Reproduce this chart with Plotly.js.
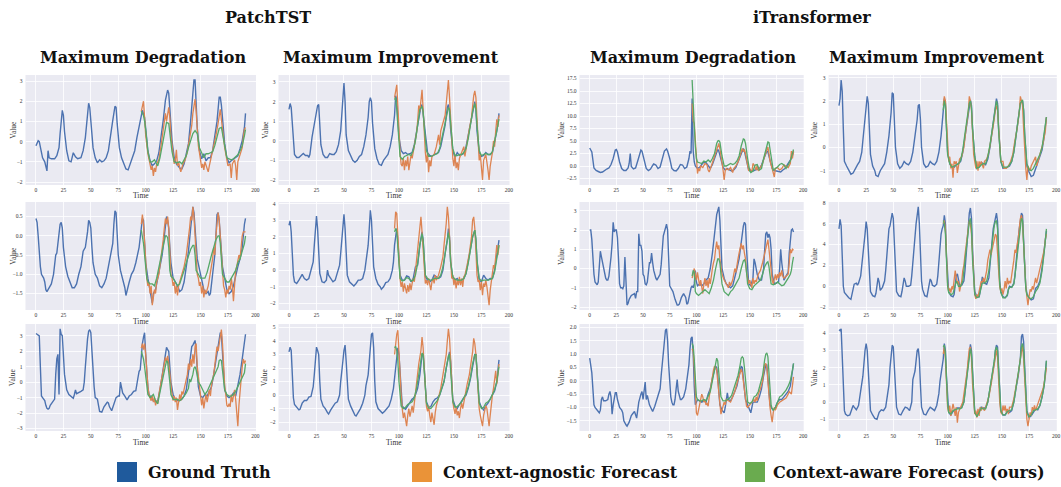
<!DOCTYPE html>
<html><head><meta charset="utf-8">
<script src="https://cdn.plot.ly/plotly-3.0.1.min.js"></script>
<style>html,body{margin:0;padding:0;background:#fff}#c{width:1061px;height:487px}</style>
</head><body><div id="c"></div>
<script>
// ---------- DATA: [time, value] points ----------
// Panel 1: PatchTST, Maximum Degradation, row 1
const p1_truth=[[0,-0.2],[2,0.05],[3,0],[5,-0.5],[6,-0.8],[8,-1.0],[10,-1.45],[11,-0.45],[12,-0.8],[14,-0.85],[17,-0.85],[19,-0.7],[21,-0.3],[22,0.4],[23,1.0],[24,1.55],[25,1.3],[26,0.5],[28,-0.45],[30,-0.95],[32,-1.0],[34,-0.55],[36,-0.75],[38,-0.85],[41,-0.8],[43,-0.45],[45,0.2],[47,1.4],[48,1.9],[49,1.7],[50,0.9],[52,-0.3],[54,-0.8],[56,-1.05],[58,-0.9],[60,-1.0],[62,-0.95],[64,-0.8],[66,-0.45],[68,0.2],[70,1.05],[72,1.75],[73,1.7],[74,0.9],[76,-0.3],[78,-0.8],[80,-1.1],[82,-1.35],[84,-1.4],[86,-1.1],[88,-0.8],[90,-0.45],[92,0.2],[94,0.8],[96,1.4],[97,1.55],[99,1.2],[100,0.6],[102,-0.45],[104,-0.95],[106,-1.2],[108,-1.1],[110,-0.95],[112,-0.55],[114,0.2],[116,1.05],[118,2.05],[120,2.55],[121,2.4],[122,1.55],[124,0.05],[126,-0.8],[128,-1.1],[131,-1.3],[133,-1.35],[135,-1.1],[137,-0.6],[139,-0.1],[141,1.05],[143,2.4],[144,3.05],[145,3.05],[146,2.05],[147,0.7],[149,-0.45],[151,-0.85],[153,-0.6],[155,-0.95],[157,-0.8],[159,-0.8],[161,-0.45],[163,0.2],[165,1.0],[167,2.2],[168,2.2],[169,1.8],[170,1.05],[172,-0.1],[174,-0.8],[176,-1.05],[178,-0.95],[180,-0.85],[182,-0.8],[184,-0.7],[186,-0.35],[188,0.05],[190,0.7],[191,1.4]];
const p1_agnostic=[[96,1.5],[97,1.8],[98,2.0],[99,1.2],[100,0.3],[102,-0.6],[104,-1.2],[105,-1.4],[106,-1.2],[107,-1.7],[108,-1.3],[109,-1.5],[110,-1.1],[112,-0.9],[114,-0.2],[116,0.5],[117,1.0],[118,1.4],[119,1.0],[120,1.5],[121,1.7],[122,1.2],[123,0.3],[125,-0.6],[126,-1.1],[127,-0.9],[128,-0.4],[129,-1.2],[130,-1.0],[131,-1.3],[132,-1.5],[134,-1.1],[136,-0.9],[138,-0.5],[140,0.1],[142,0.8],[143,1.4],[144,1.8],[145,2.1],[146,1.5],[147,0.6],[148,-0.2],[150,-0.9],[151,-1.3],[152,-1.1],[153,-1.4],[154,-1.0],[156,-1.3],[157,-1.5],[158,-1.2],[160,-0.7],[162,-0.3],[164,0.3],[166,0.9],[167,1.3],[168,1.6],[169,1.1],[170,0.6],[172,-0.3],[174,-0.9],[175,-1.2],[177,-1.1],[178,-1.8],[179,-1.1],[181,-0.9],[182,-1.2],[183,-1.9],[184,-1.0],[186,-0.7],[188,-0.3],[189,0.2],[190,0.6],[191,0.7]];
const p1_aware=[[96,1.5],[98,1.3],[99,1.0],[100,0.6],[102,-0.5],[104,-1.0],[106,-1.0],[108,-0.9],[110,-1.1],[111,-1.2],[113,-0.8],[115,-0.2],[117,0.5],[119,0.95],[121,0.9],[122,0.5],[124,-0.5],[126,-1.0],[128,-1.05],[131,-1.0],[133,-1.1],[135,-0.9],[137,-0.7],[139,-0.3],[141,0.1],[143,0.4],[145,0.55],[147,0.4],[149,-0.3],[151,-0.6],[153,-0.8],[155,-0.6],[157,-0.6],[159,-0.55],[161,-0.5],[163,-0.2],[165,0.3],[167,0.65],[169,0.7],[170,0.4],[172,-0.4],[174,-0.8],[176,-0.85],[178,-0.9],[180,-0.85],[182,-0.75],[184,-0.65],[186,-0.45],[188,-0.2],[190,0.3],[191,0.6]];

// Panel 2: PatchTST, Maximum Improvement, row 1
const p2_truth=[[0,1.6],[1,1.9],[2,1.7],[4,-0.3],[5,-0.7],[7,-0.85],[9,-0.85],[11,-0.75],[13,-0.65],[15,-0.75],[17,-0.75],[18,-0.85],[19,-0.7],[21,0.2],[23,0.9],[25,1.5],[26,1.8],[27,1.85],[28,1.0],[29,-0.2],[31,-0.7],[33,-0.85],[35,-0.85],[37,-0.65],[39,-0.7],[41,-0.7],[43,-0.55],[45,-0.2],[47,0.5],[48,1.5],[49,2.4],[50,2.95],[51,2.0],[52,0.3],[54,-0.5],[56,-0.8],[58,-1.0],[60,-1.1],[62,-1.0],[64,-0.8],[66,-0.7],[68,-0.3],[70,0.3],[72,1.2],[73,2.0],[74,2.2],[75,2.0],[76,0.9],[78,-0.4],[80,-0.9],[82,-1.2],[84,-1.25],[86,-1.0],[88,-0.85],[90,-0.7],[92,-0.3],[94,0.3],[96,1.3],[97,2.3],[98,2.1],[99,1.1],[100,0.2],[102,-0.5],[104,-0.65],[106,-0.6],[108,-0.7],[110,-0.65],[112,-0.6],[114,-0.2],[116,0.5],[118,1.2],[120,1.75],[121,1.85],[122,1.4],[124,0.2],[126,-0.6],[128,-0.75],[130,-0.8],[132,-0.7],[134,-0.65],[136,-0.6],[138,-0.3],[140,0.2],[142,0.8],[144,1.7],[145,1.85],[146,1.5],[147,0.6],[149,-0.5],[151,-0.85],[153,-0.6],[155,-0.75],[157,-0.7],[159,-0.65],[161,-0.3],[163,0.3],[165,0.9],[167,1.6],[169,2.0],[170,1.6],[171,0.5],[173,-0.6],[175,-0.8],[177,-0.75],[179,-0.6],[181,-0.7],[183,-0.7],[185,-0.6],[187,-0.1],[189,0.5],[191,1.4]];
const p2_agnostic=[[96,2.2],[97,2.6],[98,2.85],[99,1.8],[100,0.5],[101,-0.6],[102,-1.2],[103,-1.3],[104,-0.9],[105,-1.5],[106,-1.0],[107,-1.3],[108,-0.8],[109,-1.5],[110,-1.1],[111,-0.7],[112,-0.9],[114,-0.2],[116,0.4],[117,1.0],[118,1.8],[119,1.5],[120,2.3],[121,2.6],[122,1.6],[123,0.4],[124,-0.6],[125,-1.1],[126,-0.6],[127,-1.6],[128,-1.0],[129,-1.3],[130,-0.8],[132,-0.7],[134,-0.3],[136,0.3],[137,-0.2],[138,0.5],[140,0.9],[142,1.3],[143,1.9],[144,2.6],[145,3.1],[146,2.2],[147,0.9],[148,-0.2],[149,-0.9],[150,-1.3],[151,-0.7],[152,-1.4],[153,-1.1],[154,-1.5],[155,-0.9],[157,-0.6],[159,-0.3],[160,-0.8],[162,0.0],[164,0.6],[166,1.2],[167,1.8],[168,2.3],[169,2.55],[170,2.2],[171,1.1],[172,-0.3],[173,-1.0],[174,-0.7],[175,-1.3],[176,-2.0],[177,-1.0],[179,-0.7],[181,-1.5],[182,-2.0],[183,-1.3],[185,-0.6],[186,0.0],[187,-0.3],[188,0.5],[189,1.1],[190,0.7],[191,1.3]];
const p2_aware=[[96,2.1],[97,2.2],[98,1.6],[99,0.7],[100,-0.3],[101,-0.8],[103,-0.95],[105,-0.8],[107,-0.75],[109,-0.7],[111,-0.75],[113,-0.5],[115,0.0],[117,0.9],[119,1.6],[121,1.75],[122,1.5],[123,0.7],[125,-0.5],[127,-0.8],[129,-0.8],[131,-0.75],[133,-0.7],[135,-0.65],[137,-0.4],[139,0.1],[141,0.6],[143,1.2],[145,1.7],[146,1.6],[147,0.8],[149,-0.4],[151,-0.75],[153,-0.75],[155,-0.7],[157,-0.7],[159,-0.6],[161,-0.4],[163,0.1],[165,0.8],[167,1.5],[169,1.9],[170,1.6],[171,0.8],[173,-0.5],[175,-0.75],[177,-0.7],[179,-0.65],[181,-0.7],[183,-0.7],[185,-0.55],[187,-0.1],[189,0.5],[191,1.1]];

// Panel 3: iTransformer, Maximum Degradation, row 1
const p3_truth=[[0,3.6],[1,3.3],[2,2.8],[4,-0.4],[6,-0.9],[8,-1.1],[10,-1.3],[12,-1.2],[14,-0.8],[16,-0.6],[18,-0.4],[20,0.3],[22,1.5],[24,3.2],[25,3.3],[26,2.8],[28,0.8],[30,-0.5],[32,-0.9],[34,-0.9],[36,-0.4],[37,0.5],[38,2.5],[39,-0.1],[41,-0.6],[43,-0.4],[45,1.0],[47,2.5],[48,3.2],[49,3.0],[51,1.0],[53,-0.5],[55,-0.9],[57,-0.6],[59,0.1],[60,0.4],[62,0.2],[64,-0.5],[66,-0.2],[68,1.5],[70,3.0],[72,3.4],[73,3.0],[75,1.5],[77,-0.5],[79,-0.9],[81,-1.0],[83,-0.5],[85,0.3],[87,0.2],[89,-0.5],[91,-0.2],[93,1.5],[94,3.0],[95,2.5],[96,13.5],[97,3.0],[98,0.8],[99,0.0],[101,-0.5],[103,-0.3],[105,0.3],[107,0.8],[109,0.7],[111,0.2],[113,-0.5],[115,0.3],[117,1.5],[119,2.8],[120,3.3],[121,3.0],[123,1.5],[125,-0.3],[127,-0.8],[129,-0.5],[131,-0.8],[133,-1.0],[135,-0.8],[137,-0.3],[139,0.8],[141,2.0],[143,3.0],[144,3.5],[145,3.0],[147,1.0],[149,-0.8],[151,-1.0],[153,-1.0],[155,-0.8],[157,-0.7],[159,-0.5],[161,0.2],[163,1.5],[165,2.8],[166,3.0],[167,2.8],[169,1.0],[171,-0.5],[173,-0.9],[175,-1.0],[177,-1.2],[179,-1.2],[181,-0.8],[183,-0.5],[185,0.2],[187,0.8],[189,1.5],[191,2.8]];
const p3_agnostic=[[96,12.5],[97,9.0],[98,8.5],[99,5.0],[100,0.5],[101,-1.5],[102,-0.5],[103,-1.0],[104,0.0],[106,-0.3],[108,0.5],[110,0.2],[111,-0.8],[112,-1.2],[114,0.0],[116,1.2],[118,2.5],[120,4.0],[121,4.5],[122,3.5],[124,1.0],[125,-0.8],[126,-2.8],[127,-1.0],[128,-0.5],[130,-0.8],[132,-0.3],[134,-1.3],[135,-0.5],[137,0.0],[139,0.8],[141,2.0],[143,3.5],[144,3.0],[145,3.2],[146,2.5],[148,0.5],[149,-1.0],[150,-0.5],[152,-1.2],[153,0.5],[154,0.2],[156,-0.8],[157,0.2],[158,-1.0],[160,-0.3],[162,0.5],[164,2.0],[166,3.5],[167,3.8],[168,2.5],[169,1.0],[171,-0.5],[172,-1.5],[173,-2.2],[174,-0.5],[176,-0.3],[178,-0.8],[180,-0.5],[182,0.2],[184,0.0],[186,-0.3],[188,0.5],[189,3.0],[190,1.5],[191,3.0]];
const p3_aware=[[96,17.2],[97,11.0],[98,8.0],[99,4.0],[100,1.5],[101,0.8],[103,0.7],[105,0.5],[107,1.0],[109,0.8],[111,1.2],[113,0.8],[115,1.5],[117,2.5],[119,4.5],[120,5.0],[121,5.1],[122,4.8],[124,2.0],[126,0.0],[128,0.0],[130,0.3],[132,0.5],[134,0.3],[136,0.5],[138,1.0],[140,2.0],[142,4.0],[144,5.4],[145,5.3],[146,4.5],[148,1.5],[150,-1.0],[151,-1.3],[153,-1.0],[155,0.2],[157,0.3],[159,-0.8],[161,-0.5],[163,1.5],[165,3.5],[167,4.8],[168,4.7],[169,3.5],[170,1.5],[172,-0.8],[174,-0.5],[176,-0.2],[178,0.3],[180,0.5],[182,0.2],[184,-0.5],[186,0.2],[188,1.0],[190,2.5],[191,3.3]];

// Panel 4: iTransformer, Maximum Improvement, row 1
const p4_truth=[[0,1.8],[1,2.1],[2,2.9],[3,2.4],[4,0.8],[5,-0.6],[7,-0.8],[9,-1.0],[11,-1.15],[13,-1.1],[15,-0.9],[17,-0.75],[19,-0.6],[21,-0.2],[22,0.3],[24,1.3],[25,2.0],[26,2.2],[27,1.9],[28,1.0],[29,-0.3],[31,-0.8],[33,-1.0],[34,-1.2],[36,-1.25],[38,-1.0],[40,-0.85],[42,-0.7],[44,-0.2],[46,0.5],[48,1.5],[49,2.35],[50,2.3],[51,1.3],[52,0.0],[54,-0.7],[56,-0.9],[58,-0.8],[60,-0.6],[62,-0.7],[64,-0.75],[66,-0.6],[68,-0.2],[70,0.5],[72,1.2],[73,1.8],[74,1.85],[75,1.2],[76,0.0],[78,-0.7],[80,-0.85],[82,-0.8],[84,-0.6],[86,-0.7],[88,-0.75],[90,-0.6],[92,-0.2],[94,0.5],[96,1.5],[97,2.1],[98,1.9],[99,1.0],[100,-0.2],[102,-0.7],[104,-0.85],[106,-0.85],[108,-0.75],[110,-0.7],[112,-0.6],[114,-0.2],[116,0.5],[118,1.2],[120,1.9],[121,2.05],[122,1.8],[123,0.8],[125,-0.4],[127,-0.9],[129,-0.85],[131,-0.65],[133,-0.7],[135,-0.75],[137,-0.5],[139,0.0],[141,0.7],[143,1.5],[145,2.1],[146,1.9],[147,0.8],[149,-0.6],[151,-0.9],[153,-0.9],[155,-0.85],[157,-0.8],[159,-0.6],[161,-0.2],[163,0.5],[165,1.3],[167,1.9],[169,2.0],[170,1.6],[171,0.5],[173,-0.8],[175,-1.05],[177,-1.25],[179,-1.2],[181,-0.9],[183,-0.6],[185,-0.4],[187,-0.1],[189,0.5],[191,1.3]];
const p4_agnostic=[[96,1.8],[97,2.2],[98,2.0],[99,1.0],[100,-0.2],[101,-0.6],[102,-0.4],[103,-0.9],[104,-0.7],[105,-1.3],[106,-0.6],[107,-0.7],[108,-0.6],[109,-1.1],[110,-0.8],[111,-0.5],[113,-0.4],[115,0.0],[117,0.8],[119,1.5],[120,2.2],[121,2.0],[122,1.6],[123,0.6],[124,-0.3],[125,-0.6],[126,-0.9],[127,-0.6],[128,-1.0],[129,-0.6],[130,-0.8],[131,-0.6],[133,-0.9],[134,-0.6],[136,-0.5],[138,-0.2],[140,0.3],[142,0.9],[144,1.6],[145,1.8],[146,1.6],[147,0.7],[148,-0.3],[149,-0.6],[151,-0.6],[152,-0.9],[154,-0.9],[156,-0.8],[158,-0.6],[160,-0.3],[162,0.3],[164,0.8],[166,1.5],[167,2.2],[168,2.0],[169,1.8],[170,0.8],[171,-0.3],[172,-0.9],[173,-1.4],[174,-0.8],[176,-1.0],[177,-0.8],[179,-0.6],[181,-0.4],[182,-0.8],[184,-0.5],[186,-0.1],[188,0.2],[190,0.7],[191,1.3]];
const p4_aware=[[96,1.6],[97,2.0],[98,1.8],[99,0.9],[100,-0.3],[102,-0.7],[104,-0.85],[106,-0.8],[108,-0.75],[110,-0.7],[112,-0.55],[114,-0.1],[116,0.6],[118,1.3],[120,1.9],[121,2.0],[122,1.7],[123,0.8],[125,-0.4],[127,-0.9],[129,-0.85],[131,-0.75],[133,-0.7],[135,-0.7],[137,-0.4],[139,0.1],[141,0.8],[143,1.5],[145,2.0],[146,1.8],[147,0.7],[149,-0.6],[151,-0.85],[153,-0.85],[155,-0.85],[157,-0.75],[159,-0.6],[161,-0.2],[163,0.5],[165,1.3],[167,1.9],[169,2.05],[170,1.6],[171,0.6],[173,-0.7],[175,-0.95],[177,-1.0],[179,-0.9],[181,-0.7],[183,-0.5],[185,-0.3],[187,0.0],[189,0.6],[191,1.3]];

// Panel 5: PatchTST, Maximum Degradation, row 2
const p5_truth=[[0,0.45],[1,0.35],[2,0.0],[3,-0.5],[4,-0.8],[5,-1.0],[7,-1.1],[8,-1.2],[9,-1.4],[10,-1.45],[12,-1.35],[14,-1.25],[16,-1.0],[18,-0.5],[19,-0.45],[20,-0.2],[22,0.3],[23,0.35],[24,0.2],[25,-0.3],[27,-0.8],[29,-1.05],[31,-1.2],[33,-1.35],[35,-1.35],[37,-1.25],[39,-1.0],[41,-0.8],[43,-0.4],[45,-0.3],[47,0.1],[48,0.4],[49,0.35],[50,0.2],[51,-0.3],[52,-0.7],[54,-1.0],[56,-1.1],[58,-1.3],[60,-1.35],[62,-1.25],[64,-1.1],[66,-0.8],[68,-0.5],[70,-0.2],[71,0.3],[72,0.65],[73,0.6],[74,0.1],[75,-0.5],[77,-0.9],[79,-1.1],[81,-1.35],[82,-1.55],[83,-1.4],[85,-1.2],[87,-1.0],[89,-0.9],[91,-0.7],[93,-0.45],[94,-0.3],[95,-0.05],[96,0.2],[97,0.45],[98,0.4],[99,-0.2],[100,-0.7],[102,-1.1],[104,-1.4],[105,-1.6],[106,-1.75],[107,-1.5],[109,-1.4],[111,-1.1],[113,-0.8],[115,-0.5],[117,0.0],[119,0.5],[120,0.4],[121,0.2],[122,-0.3],[123,-0.7],[125,-1.1],[127,-1.2],[129,-1.3],[131,-1.45],[133,-1.4],[135,-1.2],[137,-0.8],[139,-0.4],[141,0.2],[142,0.6],[143,0.75],[144,0.6],[145,0.3],[146,-0.2],[147,-0.6],[149,-0.9],[151,-1.2],[153,-1.4],[155,-1.5],[157,-1.45],[158,-1.55],[159,-1.5],[161,-1.0],[163,-0.5],[164,0.0],[165,0.55],[166,0.6],[167,0.4],[168,0.0],[169,-0.5],[170,-0.8],[172,-1.1],[174,-1.4],[176,-1.5],[178,-1.45],[180,-1.3],[182,-1.0],[184,-0.8],[186,-0.6],[188,-0.3],[190,0.3],[191,0.45]];
const p5_agnostic=[[96,0.3],[97,0.55],[98,0.3],[99,-0.3],[100,-0.8],[101,-1.1],[102,-1.3],[103,-1.2],[104,-1.5],[105,-1.3],[106,-1.8],[107,-1.6],[108,-1.4],[109,-1.5],[110,-1.2],[112,-1.0],[114,-0.6],[115,-0.3],[116,-0.1],[117,0.2],[118,0.45],[119,0.3],[120,0.5],[121,0.2],[122,-0.5],[123,-1.0],[124,-1.1],[125,-1.3],[126,-1.2],[127,-1.5],[128,-1.3],[129,-1.55],[130,-1.3],[131,-1.2],[133,-1.0],[135,-0.8],[137,-0.5],[139,-0.1],[140,0.2],[141,0.5],[142,0.4],[143,0.75],[144,0.5],[145,0.0],[146,-0.6],[147,-1.0],[148,-1.1],[149,-1.3],[150,-1.2],[151,-1.5],[152,-1.3],[153,-1.6],[154,-1.4],[155,-1.5],[157,-1.3],[159,-1.0],[161,-0.6],[162,-0.3],[163,-0.5],[164,0.0],[165,0.4],[166,0.6],[167,0.4],[168,0.0],[169,-0.6],[170,-1.0],[171,-1.3],[172,-1.4],[173,-1.6],[174,-1.4],[175,-1.5],[176,-1.3],[177,-1.4],[178,-1.1],[179,-1.3],[180,-1.7],[181,-1.2],[182,-0.9],[183,-0.8],[185,-0.5],[186,-0.6],[187,-0.2],[188,0.0],[189,0.1],[191,0.1]];
const p5_aware=[[96,0.15],[97,0.0],[98,-0.2],[99,-0.5],[100,-0.9],[101,-1.1],[102,-1.2],[104,-1.25],[106,-1.25],[108,-1.3],[110,-1.1],[112,-0.8],[114,-0.5],[116,-0.2],[118,0.0],[119,0.0],[120,-0.05],[121,-0.3],[122,-0.9],[123,-1.05],[125,-1.1],[127,-1.2],[129,-1.3],[131,-1.25],[133,-1.1],[135,-0.9],[137,-0.7],[139,-0.5],[141,-0.35],[143,-0.25],[144,-0.25],[145,-0.5],[146,-0.9],[148,-1.0],[150,-1.1],[152,-1.1],[154,-1.1],[156,-0.95],[158,-0.7],[160,-0.5],[162,-0.3],[164,-0.1],[166,0.0],[167,0.0],[168,-0.2],[169,-0.6],[170,-1.0],[172,-1.1],[174,-1.2],[176,-1.2],[178,-1.1],[180,-1.0],[182,-0.9],[184,-0.7],[186,-0.6],[188,-0.4],[190,-0.2],[191,0.0]];

// Panel 6: PatchTST, Maximum Improvement, row 2
const p6_truth=[[0,2.7],[1,2.95],[2,2.3],[3,0.5],[4,-0.3],[5,-0.7],[7,-0.8],[9,-0.6],[11,-0.3],[12,-0.25],[14,-0.5],[16,-0.6],[18,-0.5],[20,0.0],[22,0.5],[23,1.5],[24,2.6],[25,3.25],[26,2.5],[27,0.8],[28,-0.2],[30,-0.7],[32,-0.75],[34,-0.6],[35,0.0],[36,-0.3],[38,-0.5],[40,-0.7],[42,-0.6],[44,-0.2],[46,0.3],[47,1.0],[48,2.0],[49,3.0],[50,3.35],[51,2.5],[52,0.8],[53,-0.3],[55,-0.7],[57,-0.85],[59,-0.95],[61,-0.8],[63,-0.6],[65,-0.6],[67,-0.5],[69,0.0],[70,0.5],[71,0.9],[72,1.5],[73,2.5],[74,3.6],[75,3.0],[76,1.5],[77,0.2],[79,-0.5],[81,-0.85],[83,-1.0],[84,-1.15],[86,-1.0],[88,-0.75],[90,-0.7],[92,-0.5],[94,0.0],[95,0.5],[96,1.5],[97,2.2],[98,2.5],[99,1.8],[100,0.5],[101,-0.3],[103,-0.6],[105,-0.6],[107,-0.35],[109,-0.4],[111,-0.7],[113,-0.5],[115,0.2],[117,0.3],[119,1.5],[121,2.3],[122,1.8],[123,0.5],[124,-0.4],[126,-0.6],[128,-0.7],[130,-0.6],[132,-0.3],[134,-0.4],[136,-0.5],[138,-0.4],[140,0.0],[142,1.0],[144,1.8],[145,2.5],[146,2.0],[147,0.5],[149,-0.5],[151,-0.6],[153,-0.5],[155,-0.7],[157,-0.6],[159,-0.5],[161,-0.2],[163,0.5],[165,1.2],[167,2.0],[169,2.4],[170,1.8],[171,0.5],[173,-0.6],[175,-0.7],[177,-0.3],[179,-0.5],[181,-0.6],[183,-0.5],[185,-0.5],[187,0.0],[189,0.8],[191,1.8]];
const p6_agnostic=[[96,2.5],[97,3.5],[98,3.4],[99,2.0],[100,0.5],[101,-0.5],[102,-1.0],[103,-0.7],[104,-1.3],[105,-0.8],[106,-1.1],[107,-1.4],[108,-0.9],[109,-1.3],[110,-0.8],[111,-1.2],[112,-0.8],[113,-0.5],[114,-0.7],[115,0.0],[116,0.5],[117,1.2],[118,2.2],[119,2.5],[120,3.2],[121,2.3],[122,1.0],[123,-0.2],[124,-0.8],[125,-0.6],[126,-0.9],[127,-0.5],[128,-0.8],[129,-1.2],[130,-0.7],[131,-0.5],[132,-0.8],[133,-0.3],[134,-0.6],[136,-0.3],[138,0.2],[140,0.8],[141,1.5],[142,2.0],[143,2.8],[144,3.8],[145,3.2],[146,2.0],[147,0.3],[148,-0.5],[149,-0.3],[150,-0.9],[151,-0.5],[152,-1.1],[153,-0.6],[154,-0.9],[155,-0.4],[156,-0.9],[157,-0.5],[158,-1.0],[159,-0.4],[160,-0.3],[162,0.3],[164,1.0],[166,2.0],[167,3.0],[168,3.2],[169,2.5],[170,1.2],[171,-0.3],[172,-0.7],[173,-0.6],[174,-1.2],[175,-0.7],[176,-1.5],[177,-0.8],[178,-1.0],[179,-0.6],[180,-1.0],[181,-1.5],[182,-2.1],[183,-1.2],[184,-0.6],[185,-0.3],[186,0.3],[187,0.1],[188,0.8],[189,1.5],[190,0.9],[191,1.5]];
const p6_aware=[[96,2.3],[97,2.5],[98,2.3],[99,1.2],[100,0.0],[101,-0.5],[103,-0.65],[105,-0.6],[107,-0.45],[109,-0.5],[111,-0.65],[113,-0.6],[115,-0.3],[117,0.4],[119,1.5],[121,2.2],[122,1.8],[123,0.6],[124,-0.3],[126,-0.5],[128,-0.6],[130,-0.6],[132,-0.5],[134,-0.5],[136,-0.5],[138,-0.3],[140,0.2],[142,1.0],[144,1.9],[145,2.25],[146,1.8],[147,0.5],[149,-0.4],[151,-0.55],[153,-0.6],[155,-0.6],[157,-0.6],[159,-0.5],[161,-0.2],[163,0.4],[165,1.2],[167,2.0],[169,2.4],[170,1.9],[171,0.6],[173,-0.5],[175,-0.65],[177,-0.6],[179,-0.6],[181,-0.6],[183,-0.55],[185,-0.5],[187,-0.1],[189,0.6],[191,1.5]];

// Panel 7: iTransformer, Maximum Degradation, row 2
const p7_truth=[[0,2.0],[1,2.0],[2,1.5],[3,0.5],[4,-0.3],[5,-0.7],[6,-0.8],[7,-0.85],[8,-0.7],[9,0.0],[10,0.9],[11,0.6],[12,0.3],[13,-0.1],[15,-0.5],[16,-0.6],[17,-0.6],[18,-0.4],[19,0.0],[20,0.6],[21,1.3],[22,2.4],[23,1.9],[24,2.0],[25,2.0],[26,1.6],[27,0.5],[28,-0.8],[29,-1.0],[30,-1.0],[31,-1.05],[32,-0.9],[33,0.6],[34,-1.0],[35,-1.9],[36,-1.8],[37,-1.6],[39,-1.4],[41,-1.3],[42,-1.3],[43,-1.55],[44,-1.2],[45,-1.2],[46,1.8],[47,1.2],[48,1.2],[49,0.9],[50,-0.3],[51,-0.4],[52,-0.8],[53,-0.85],[54,-0.7],[55,-0.2],[56,0.3],[57,0.3],[58,0.8],[59,0.3],[60,-0.1],[62,-0.5],[63,-0.6],[64,-0.5],[66,-0.3],[67,0.2],[68,1.0],[69,1.7],[70,1.9],[71,2.1],[72,2.3],[73,2.0],[74,0.5],[75,-0.9],[76,-1.0],[78,-1.2],[80,-1.6],[81,-1.8],[82,-1.9],[83,-1.9],[84,-1.85],[86,-1.5],[88,-1.3],[90,-1.5],[91,-1.85],[92,-1.8],[93,-1.5],[95,-1.0],[96,-0.9],[97,-1.0],[98,-0.8],[99,-0.1],[100,-0.7],[101,-0.9],[103,-0.8],[105,-0.9],[107,-0.8],[109,-0.6],[111,-0.5],[113,0.0],[115,0.8],[117,1.8],[118,2.5],[119,2.8],[120,3.0],[121,3.2],[122,2.5],[123,1.0],[124,0.0],[126,-0.5],[128,-0.8],[130,-0.9],[132,-1.0],[134,-0.9],[136,-0.5],[138,0.0],[140,0.5],[142,1.5],[144,2.2],[145,2.4],[146,2.3],[147,1.0],[148,-0.3],[149,-0.8],[151,-0.9],[153,-0.5],[154,0.5],[155,0.3],[157,-0.3],[159,-0.6],[161,-0.6],[163,0.0],[164,1.0],[165,1.8],[166,1.9],[167,1.6],[168,1.8],[169,1.6],[170,1.0],[171,-0.3],[173,-0.8],[175,-0.75],[177,-0.7],[178,0.0],[179,1.0],[180,0.3],[182,-0.6],[184,-0.4],[186,-0.2],[187,0.8],[188,1.6],[189,2.0],[190,2.05],[191,1.9]];
const p7_agnostic=[[96,-0.5],[97,-0.2],[98,0.0],[99,-0.3],[100,-0.6],[101,-0.2],[102,-0.5],[103,-0.9],[104,-0.6],[105,-1.0],[106,-1.3],[107,-0.8],[108,-0.5],[109,-0.9],[110,-0.6],[111,-1.0],[112,-0.5],[113,-0.8],[114,-0.3],[115,0.0],[116,0.3],[117,0.5],[118,1.0],[119,1.4],[120,1.0],[121,1.2],[122,0.5],[123,0.0],[124,-0.3],[126,-0.6],[128,-0.8],[130,-1.0],[131,-0.7],[132,-0.9],[134,-0.6],[135,-0.3],[136,0.0],[137,-0.2],[138,0.3],[139,0.5],[140,0.8],[141,1.0],[142,1.3],[143,1.0],[144,1.2],[145,0.8],[146,0.5],[147,-0.2],[148,-0.6],[149,-0.8],[150,-0.6],[151,-0.9],[152,-1.0],[153,-0.5],[154,-0.8],[155,-0.6],[156,-0.7],[158,-0.3],[160,-0.1],[162,0.3],[164,0.8],[166,1.3],[167,1.5],[168,1.0],[169,0.5],[170,-0.3],[171,-0.6],[172,-0.8],[173,-0.5],[174,-0.3],[175,-0.6],[176,-0.3],[177,-0.5],[178,-0.2],[179,-0.4],[180,-0.1],[181,-0.4],[182,-0.5],[184,-0.4],[186,-0.3],[187,0.3],[188,1.0],[189,0.8],[190,1.0],[191,0.95]];
const p7_aware=[[96,-0.4],[97,-0.1],[98,-0.2],[99,-1.2],[100,-1.3],[102,-1.4],[104,-1.3],[106,-1.2],[108,-1.1],[110,-1.2],[112,-1.3],[114,-1.0],[116,-0.6],[118,0.0],[119,0.3],[120,0.5],[121,0.5],[122,0.3],[123,-0.3],[124,-0.8],[126,-1.2],[128,-1.3],[130,-1.4],[132,-1.2],[134,-1.1],[136,-0.9],[138,-0.7],[140,-0.5],[142,0.0],[144,0.4],[145,0.45],[146,0.3],[147,-0.2],[148,-0.8],[150,-1.05],[152,-1.1],[154,-0.9],[156,-0.8],[158,-0.7],[160,-0.6],[162,-0.3],[164,0.1],[166,0.3],[167,0.35],[168,0.1],[169,-0.4],[170,-0.8],[172,-0.85],[174,-0.8],[176,-0.7],[178,-0.8],[180,-0.9],[182,-0.85],[184,-0.7],[186,-0.5],[188,-0.3],[189,-0.1],[190,0.3],[191,0.6]];

// Panel 8: iTransformer, Maximum Improvement, row 2
const p8_truth=[[0,5.5],[1,6.4],[2,5.8],[3,2.0],[4,0.0],[5,-0.6],[7,-0.9],[9,-1.1],[11,-1.25],[12,-0.8],[13,-0.2],[14,0.2],[16,0.3],[17,0.1],[18,0.3],[20,1.0],[21,2.0],[22,3.5],[23,4.0],[24,5.0],[25,6.2],[26,5.5],[27,3.0],[28,0.5],[29,-0.5],[31,-0.9],[33,-1.0],[34,-0.7],[35,0.3],[36,0.8],[37,0.4],[38,-0.4],[40,-0.1],[41,0.3],[42,0.5],[43,1.5],[44,3.0],[45,4.5],[46,5.5],[47,5.8],[48,6.5],[49,7.0],[50,6.5],[51,3.5],[52,0.5],[53,-0.5],[55,-0.9],[57,-1.0],[58,-0.5],[59,0.5],[60,0.8],[61,0.5],[62,0.0],[64,0.0],[66,0.1],[67,1.0],[68,2.5],[69,4.0],[70,5.0],[71,6.0],[72,6.8],[73,7.6],[74,6.0],[75,3.0],[76,0.5],[77,-0.3],[79,-0.9],[81,-1.0],[82,-0.5],[83,0.3],[84,0.7],[85,0.5],[86,0.1],[88,0.0],[90,0.2],[91,1.0],[92,2.5],[93,4.0],[94,5.0],[95,5.5],[96,5.8],[97,6.8],[98,6.0],[99,3.0],[100,0.5],[101,-0.5],[103,-0.9],[105,-1.0],[106,-0.8],[107,0.0],[108,1.0],[109,1.2],[110,0.5],[111,0.1],[113,0.1],[115,0.5],[116,1.5],[117,3.0],[118,4.5],[119,6.0],[120,7.0],[121,7.5],[122,6.5],[123,3.5],[124,0.5],[125,-0.5],[127,-1.0],[129,-1.0],[130,-0.5],[131,0.3],[132,0.9],[133,0.5],[134,0.3],[136,0.2],[138,0.8],[139,2.0],[140,3.5],[141,5.0],[142,5.5],[143,6.0],[144,6.5],[145,7.0],[146,6.2],[147,3.0],[148,0.5],[149,-0.5],[151,-1.0],[153,-1.1],[155,-0.9],[156,-0.3],[157,0.0],[159,-0.1],[161,0.3],[162,1.0],[163,2.5],[164,3.5],[165,4.5],[166,5.5],[167,6.5],[168,7.0],[169,6.8],[170,5.0],[171,2.0],[172,0.0],[173,-0.7],[175,-1.1],[177,-1.3],[179,-1.2],[180,-0.5],[181,-0.2],[183,0.0],[185,0.5],[187,1.8],[189,3.5],[191,5.3]];
const p8_agnostic=[[96,6.0],[97,6.3],[98,5.5],[99,2.5],[100,0.3],[101,-0.5],[102,-0.2],[103,-0.6],[104,0.0],[105,-0.3],[106,0.5],[107,1.5],[108,0.8],[109,0.3],[110,0.5],[111,-0.5],[112,0.0],[113,0.5],[114,1.5],[115,2.0],[116,3.0],[117,4.0],[118,5.0],[119,5.5],[120,6.3],[121,6.0],[122,5.0],[123,2.5],[124,0.0],[125,-0.8],[126,-1.2],[127,-0.8],[128,-1.0],[129,-0.3],[130,0.0],[131,0.5],[132,0.3],[133,0.8],[134,0.4],[135,1.0],[136,1.5],[137,2.5],[138,3.0],[139,3.5],[140,3.0],[141,3.5],[142,4.0],[143,4.5],[144,5.0],[145,4.8],[146,3.5],[147,1.5],[148,0.0],[149,-0.5],[150,-0.2],[151,-0.8],[152,-0.3],[153,0.5],[154,-0.2],[155,0.8],[156,0.2],[157,0.5],[158,0.3],[159,1.0],[160,1.5],[161,2.5],[162,3.5],[163,3.2],[164,4.0],[165,4.5],[166,5.5],[167,6.5],[168,6.8],[169,6.2],[170,4.0],[171,1.5],[172,0.0],[173,-1.0],[174,-1.8],[175,-1.0],[176,-0.3],[177,-0.5],[178,0.0],[179,-0.3],[180,0.5],[181,0.8],[182,0.3],[183,0.8],[184,1.0],[185,1.5],[186,2.0],[187,2.5],[188,3.0],[189,3.5],[190,4.5],[191,5.0]];
const p8_aware=[[96,6.3],[97,6.0],[98,5.0],[99,2.0],[100,0.0],[101,-0.6],[103,-0.8],[105,-0.7],[106,-0.3],[107,0.3],[108,0.5],[109,0.3],[110,0.0],[112,0.0],[114,0.5],[115,1.5],[116,2.5],[117,3.5],[118,4.5],[119,5.5],[120,6.2],[121,6.5],[122,5.5],[123,2.5],[124,0.0],[125,-0.8],[127,-1.1],[129,-1.0],[130,-0.5],[131,0.0],[132,0.3],[134,0.3],[136,0.5],[138,1.5],[139,2.5],[140,3.5],[141,4.5],[142,5.2],[143,5.8],[144,6.2],[145,6.3],[146,5.5],[147,2.5],[148,0.2],[149,-0.6],[151,-1.1],[153,-1.1],[155,-0.8],[156,-0.3],[157,-0.1],[159,-0.1],[161,0.2],[162,1.0],[163,2.0],[164,3.0],[165,4.0],[166,5.0],[167,6.0],[168,6.5],[169,6.3],[170,4.5],[171,1.5],[172,-0.2],[173,-0.8],[175,-1.1],[177,-1.2],[179,-1.0],[181,-0.5],[183,-0.2],[185,0.3],[187,1.5],[189,3.3],[191,5.5]];

// Panel 9: PatchTST, Maximum Degradation, row 3
const p9_truth=[[0,3.15],[1,3.1],[2,3.05],[3,3.0],[4,1.0],[5,-0.9],[6,-1.0],[7,-1.1],[8,-1.2],[9,-1.5],[10,-1.7],[11,-1.75],[12,-1.7],[13,-1.5],[14,-1.4],[15,-1.3],[16,-1.2],[17,-1.1],[18,0.5],[19,1.5],[20,1.8],[21,-0.8],[22,3.45],[23,3.1],[24,3.0],[25,1.5],[26,0.5],[27,0.0],[28,-0.5],[30,-0.8],[32,-0.95],[34,-1.05],[35,-0.8],[36,-0.5],[37,-0.75],[39,-0.7],[41,-0.6],[43,-0.5],[44,0.0],[45,1.0],[46,2.0],[47,2.8],[48,3.3],[49,3.4],[50,3.2],[51,2.0],[52,0.5],[53,-0.3],[54,-1.0],[56,-1.1],[57,-1.5],[58,-1.9],[60,-1.95],[62,-1.6],[64,-1.4],[65,-1.3],[66,-1.35],[67,-1.6],[69,-1.85],[71,-1.4],[73,-1.0],[75,-0.9],[76,-0.9],[77,0.0],[78,-0.5],[79,-0.7],[81,-0.9],[83,-1.15],[85,-0.9],[87,-0.8],[89,-0.6],[91,-0.55],[93,0.3],[94,0.7],[95,0.8],[96,1.8],[97,2.5],[98,2.9],[99,3.2],[100,1.8],[101,0.5],[102,-0.3],[103,-0.8],[105,-1.0],[107,-1.2],[109,-1.3],[111,-1.2],[113,-0.5],[115,0.5],[117,1.5],[118,2.0],[119,2.25],[120,2.1],[121,2.0],[122,1.0],[123,0.0],[125,-0.8],[127,-1.1],[129,-1.2],[131,-1.2],[133,-1.1],[135,-0.9],[137,-0.5],[139,0.5],[141,1.5],[142,2.3],[143,2.4],[144,2.6],[145,2.7],[146,2.0],[147,0.5],[148,-0.3],[150,-0.9],[152,-1.0],[154,-0.8],[156,-0.9],[158,-0.6],[160,-0.3],[162,0.5],[164,1.5],[166,2.3],[167,3.0],[168,3.2],[169,3.1],[170,2.0],[171,0.5],[172,-0.5],[174,-0.9],[176,-1.0],[178,-0.9],[180,-0.7],[182,-0.9],[184,-0.3],[186,0.5],[188,1.5],[190,2.5],[191,3.1]];
const p9_agnostic=[[96,2.2],[97,2.5],[98,2.1],[99,2.5],[100,1.8],[101,0.5],[102,-0.3],[103,-0.8],[104,-1.0],[105,-1.2],[106,-0.9],[107,-1.3],[108,-1.0],[109,-1.5],[110,-1.2],[111,-1.4],[112,-0.8],[113,-0.4],[114,0.0],[115,0.3],[116,0.8],[117,1.2],[118,1.6],[119,1.3],[120,1.7],[121,1.2],[122,0.5],[123,-0.3],[124,-0.8],[125,-1.2],[126,-0.9],[127,-1.3],[128,-1.0],[129,-1.8],[130,-1.1],[131,-0.8],[132,-1.2],[133,-0.6],[134,-0.8],[136,-0.2],[138,0.5],[139,1.2],[140,0.8],[141,1.5],[142,1.0],[143,1.8],[144,1.2],[145,2.3],[146,2.5],[147,1.0],[148,0.3],[149,-0.5],[150,-1.0],[151,-1.5],[152,-1.0],[153,-1.7],[154,-1.2],[155,-0.8],[156,-1.3],[157,-0.9],[158,-0.5],[159,-0.9],[160,-0.2],[162,0.5],[164,1.5],[165,2.3],[166,2.0],[167,2.5],[168,3.0],[169,3.4],[170,2.5],[171,1.0],[172,-0.2],[173,-0.8],[174,-1.5],[175,-1.6],[176,-1.4],[177,-1.6],[178,-0.8],[179,-1.3],[180,-0.9],[181,-0.5],[182,-1.1],[183,-1.8],[184,-2.85],[185,-1.5],[186,-0.5],[187,0.3],[188,1.0],[189,1.5],[190,1.2],[191,1.4]];
const p9_aware=[[96,2.0],[97,1.8],[98,1.5],[99,1.0],[100,0.5],[101,-0.3],[102,-0.8],[104,-1.0],[106,-0.9],[107,-0.8],[109,-1.2],[111,-1.4],[112,-1.0],[114,-0.3],[116,0.5],[118,1.1],[119,1.4],[120,1.3],[121,0.8],[122,0.0],[123,-0.8],[125,-1.1],[127,-1.15],[129,-1.1],[131,-1.2],[133,-1.1],[135,-0.9],[137,-0.7],[139,-0.4],[140,0.2],[141,0.0],[142,0.2],[143,0.5],[144,0.9],[145,1.0],[146,0.8],[147,0.4],[148,0.0],[150,-0.2],[152,-0.5],[154,-0.8],[156,-0.6],[158,-0.3],[160,0.0],[162,0.3],[164,0.6],[166,1.0],[167,1.4],[168,1.45],[169,1.4],[170,0.8],[171,0.0],[172,-0.5],[174,-0.8],[176,-0.9],[178,-0.9],[180,-0.8],[182,-0.6],[184,-0.3],[186,0.0],[188,0.3],[190,0.6],[191,1.2]];

// Panel 10: PatchTST, Maximum Improvement, row 3
const p10_truth=[[0,3.2],[1,3.55],[2,3.3],[3,1.5],[4,-0.2],[5,-0.7],[7,-0.9],[9,-1.1],[10,-1.05],[12,-0.6],[14,-0.4],[16,-0.4],[17,-0.3],[18,-0.15],[20,-0.1],[21,0.3],[22,0.6],[23,1.5],[24,3.0],[25,3.55],[26,3.3],[27,3.0],[28,1.0],[29,-0.3],[31,-0.8],[33,-1.0],[35,-1.3],[36,-1.4],[38,-1.1],[40,-0.8],[42,-0.6],[44,-0.5],[46,0.0],[47,1.0],[48,2.0],[49,2.5],[50,3.3],[51,3.7],[52,2.5],[53,1.0],[54,-0.3],[56,-0.8],[58,-1.2],[60,-1.5],[61,-1.55],[63,-1.3],[65,-1.0],[67,-0.6],[69,0.0],[70,0.7],[71,1.0],[72,1.5],[73,2.5],[74,3.5],[75,4.5],[76,4.6],[77,3.5],[78,1.0],[79,-0.5],[81,-1.0],[83,-1.2],[85,-1.35],[87,-1.2],[89,-1.0],[91,-0.8],[93,-0.3],[95,0.5],[97,2.0],[98,3.0],[99,3.5],[100,3.0],[101,1.5],[102,0.0],[103,-0.8],[105,-1.0],[106,-1.05],[108,-0.8],[110,-0.5],[112,-0.3],[113,-0.25],[115,0.0],[117,0.5],[119,1.5],[121,3.0],[122,3.1],[123,2.0],[124,0.5],[125,-0.5],[127,-0.9],[129,-0.85],[131,-0.5],[133,-0.3],[135,-0.2],[137,0.0],[139,0.5],[141,1.0],[143,2.0],[145,3.0],[146,3.2],[147,2.5],[148,0.8],[149,-0.3],[151,-0.8],[153,-1.0],[155,-0.7],[157,-0.4],[159,-0.2],[161,0.0],[163,0.5],[165,1.2],[167,2.2],[169,3.0],[170,3.0],[171,2.0],[172,0.5],[173,-0.5],[175,-0.9],[177,-1.1],[179,-0.8],[181,-0.6],[183,-0.3],[185,0.0],[187,0.3],[189,1.0],[191,2.6]];
const p10_agnostic=[[96,3.0],[97,4.0],[98,4.5],[99,4.8],[100,3.0],[101,1.5],[102,0.0],[103,-1.0],[104,-1.7],[105,-1.3],[106,-1.8],[107,-2.3],[108,-1.5],[109,-1.0],[110,-1.6],[111,-1.2],[112,-0.8],[113,-1.3],[114,-0.5],[115,0.0],[116,0.8],[117,1.5],[118,2.3],[119,2.8],[120,3.3],[121,4.3],[122,3.5],[123,2.0],[124,0.3],[125,-0.8],[126,-1.2],[127,-0.8],[128,-1.5],[129,-2.0],[130,-1.3],[131,-1.8],[132,-2.2],[133,-1.3],[134,-0.8],[136,-0.2],[138,0.5],[140,1.5],[142,2.5],[143,3.0],[144,4.0],[145,4.9],[146,4.2],[147,2.5],[148,0.5],[149,-0.5],[150,-1.0],[151,-1.4],[152,-0.9],[153,-1.5],[154,-1.2],[155,-1.7],[156,-1.0],[157,-0.6],[158,-1.0],[160,0.0],[162,0.8],[164,1.5],[166,2.5],[167,3.2],[168,4.2],[169,3.8],[170,3.0],[171,1.5],[172,0.0],[173,-1.0],[174,-1.5],[175,-2.0],[176,-2.3],[177,-1.5],[178,-1.2],[179,-0.8],[180,-1.0],[181,-1.6],[182,-2.3],[183,-1.5],[184,-0.5],[185,0.0],[186,0.5],[187,1.0],[188,1.8],[189,0.8],[190,1.5],[191,2.3]];
const p10_aware=[[96,3.5],[97,3.6],[98,3.3],[99,2.5],[100,1.0],[101,-0.2],[102,-0.8],[104,-1.0],[106,-0.9],[108,-0.7],[110,-0.6],[112,-0.5],[114,-0.2],[116,0.5],[118,1.5],[120,2.8],[121,3.1],[122,3.0],[123,1.8],[124,0.3],[125,-0.6],[127,-0.95],[129,-1.0],[131,-0.8],[133,-0.6],[135,-0.4],[137,0.0],[139,0.5],[141,1.0],[143,2.0],[145,2.9],[146,3.0],[147,2.0],[148,0.5],[149,-0.5],[151,-0.9],[153,-0.85],[155,-0.7],[157,-0.5],[159,-0.2],[161,0.1],[163,0.6],[165,1.3],[167,2.3],[169,3.0],[170,3.0],[171,1.8],[172,0.3],[173,-0.6],[175,-1.0],[177,-0.9],[179,-0.6],[181,-0.5],[183,-0.3],[185,0.0],[187,0.4],[189,1.0],[191,2.1]];

// Panel 11: iTransformer, Maximum Degradation, row 3
const p11_truth=[[0,0.85],[1,0.6],[2,0.3],[3,-0.3],[4,-0.9],[5,-1.0],[7,-1.1],[9,-1.2],[10,-1.1],[11,-0.7],[12,-0.6],[13,-0.75],[15,-0.75],[17,-0.7],[18,-0.5],[19,-0.4],[20,-0.6],[21,-1.25],[22,-0.9],[23,-0.7],[24,-0.45],[25,-0.45],[26,-0.7],[28,-1.0],[30,-1.1],[31,-1.2],[32,-1.5],[34,-1.65],[35,-1.7],[37,-1.55],[39,-1.3],[41,-1.2],[42,-1.15],[44,-1.4],[45,-1.1],[46,-0.8],[48,-0.5],[49,-0.4],[50,-0.7],[51,-0.4],[52,-0.05],[53,-0.7],[54,-0.55],[56,-0.9],[58,-1.1],[59,-1.15],[61,-0.95],[62,-0.8],[63,-0.65],[64,-0.6],[66,-0.3],[67,0.2],[68,0.6],[69,1.0],[70,1.5],[71,1.9],[72,1.95],[73,1.5],[74,0.6],[75,-0.3],[76,-0.6],[77,-0.8],[78,-0.9],[79,-0.9],[80,-0.7],[81,-0.3],[82,0.05],[83,-0.4],[84,-0.6],[85,-0.7],[86,-0.7],[88,-0.6],[90,-0.3],[91,0.0],[93,0.6],[94,1.2],[95,1.6],[96,1.65],[97,1.0],[98,-0.2],[99,-0.9],[100,-0.8],[101,-0.7],[103,-0.75],[105,-0.8],[107,-0.75],[109,-0.8],[111,-0.5],[113,-0.3],[115,0.1],[117,0.4],[118,0.55],[119,0.5],[120,0.2],[121,-0.4],[122,-0.9],[124,-1.1],[126,-1.2],[127,-1.0],[128,-0.6],[129,-0.45],[130,-0.7],[132,-0.75],[134,-0.6],[136,-0.4],[138,-0.2],[139,0.0],[140,0.2],[141,0.4],[142,0.55],[143,0.5],[144,0.2],[145,-0.3],[146,-0.7],[148,-0.9],[150,-1.1],[151,-1.2],[152,-1.0],[153,-0.8],[155,-0.8],[157,-0.8],[159,-0.6],[161,-0.3],[163,0.2],[164,0.5],[165,0.6],[166,0.6],[167,0.0],[168,-0.5],[169,-0.9],[170,-1.0],[172,-1.1],[174,-1.0],[176,-0.8],[178,-0.7],[180,-0.7],[182,-0.6],[184,-0.5],[186,-0.4],[188,-0.2],[190,0.3],[191,0.65]];
const p11_agnostic=[[96,1.2],[97,1.1],[98,0.5],[99,-0.6],[100,-1.2],[101,-1.3],[102,-1.1],[103,-1.0],[104,-0.8],[105,-0.5],[106,-0.6],[107,-0.8],[108,-0.7],[109,-0.9],[110,-0.85],[111,-0.95],[112,-0.6],[113,-0.3],[114,0.0],[115,0.2],[116,0.4],[117,0.55],[118,0.5],[119,0.4],[120,0.0],[121,-0.6],[122,-1.0],[123,-1.25],[124,-1.1],[125,-0.9],[126,-0.8],[127,-0.9],[128,-0.7],[130,-0.75],[132,-0.8],[134,-0.6],[136,-0.4],[138,-0.1],[140,0.2],[141,0.4],[142,0.45],[143,0.3],[144,0.0],[145,-0.5],[146,-0.8],[147,-0.95],[148,-1.0],[150,-0.9],[152,-0.8],[154,-0.7],[155,-0.8],[156,-0.6],[157,-0.75],[158,-0.5],[160,-0.3],[162,0.0],[163,0.3],[164,0.6],[165,0.65],[166,0.5],[167,0.0],[168,-0.6],[169,-1.0],[170,-1.3],[171,-1.55],[172,-1.2],[173,-1.0],[174,-1.1],[176,-0.9],[178,-0.8],[180,-0.75],[182,-0.7],[184,-0.65],[186,-0.5],[187,-0.4],[189,-0.5],[190,0.0],[191,0.15]];
const p11_aware=[[96,1.4],[97,1.3],[98,0.8],[99,0.0],[100,-0.6],[101,-0.7],[103,-0.75],[105,-0.75],[107,-0.7],[109,-0.75],[111,-0.6],[113,-0.4],[115,0.0],[117,0.5],[118,0.75],[119,0.85],[120,0.75],[121,0.3],[122,-0.4],[123,-0.6],[125,-0.75],[127,-0.75],[129,-0.7],[131,-0.65],[133,-0.55],[135,-0.3],[137,0.0],[139,0.2],[141,0.6],[142,0.85],[143,0.9],[144,0.85],[145,0.5],[146,0.0],[147,-0.6],[148,-0.8],[150,-0.85],[152,-0.8],[154,-0.6],[156,-0.55],[158,-0.4],[160,-0.1],[162,0.2],[164,0.8],[165,1.0],[166,1.05],[167,0.9],[168,0.3],[169,-0.5],[170,-0.9],[171,-1.05],[172,-1.1],[174,-1.0],[176,-0.8],[178,-0.6],[180,-0.55],[182,-0.45],[184,-0.35],[186,-0.2],[188,0.0],[190,0.4],[191,0.65]];

// Panel 12: iTransformer, Maximum Improvement, row 3
const p12_truth=[[0,4.2],[1,4.15],[2,4.25],[3,2.5],[4,0.5],[5,-0.5],[6,-0.7],[8,-0.8],[10,-0.75],[12,-0.4],[13,-0.2],[14,-0.3],[16,-0.45],[18,-0.2],[20,0.8],[22,1.5],[24,3.0],[25,3.4],[26,3.0],[27,1.5],[28,0.0],[29,-0.5],[31,-0.75],[33,-0.95],[35,-1.0],[37,-0.6],[39,-0.45],[41,-0.5],[43,-0.3],[45,0.5],[46,1.0],[47,2.0],[48,2.8],[49,3.3],[50,3.2],[51,2.0],[52,0.5],[53,-0.3],[55,-0.7],[57,-0.75],[59,-0.5],[61,-0.3],[63,-0.35],[65,-0.5],[67,0.0],[68,1.3],[70,1.8],[71,2.5],[72,3.0],[73,3.1],[74,2.5],[75,1.0],[76,-0.3],[78,-0.7],[80,-0.75],[82,-0.5],[84,-0.3],[86,-0.4],[88,-0.5],[90,-0.2],[92,0.5],[93,1.2],[95,2.0],[96,2.5],[97,3.4],[98,3.0],[99,1.5],[100,0.0],[101,-0.6],[103,-0.75],[105,-0.55],[107,-0.45],[109,-0.35],[111,-0.35],[113,-0.3],[115,0.0],[117,1.0],[119,2.0],[120,2.8],[121,3.35],[122,3.0],[123,1.5],[124,0.0],[125,-0.6],[127,-0.75],[129,-0.5],[131,-0.3],[133,-0.35],[135,-0.35],[137,0.0],[139,0.8],[141,1.5],[143,2.3],[144,3.0],[145,3.3],[146,3.2],[147,2.0],[148,0.5],[149,-0.5],[151,-0.75],[153,-0.75],[155,-0.55],[157,-0.6],[159,-0.5],[161,0.0],[163,0.8],[165,1.5],[167,2.5],[168,3.8],[169,3.95],[170,3.5],[171,2.0],[172,0.5],[173,-0.5],[175,-0.9],[177,-0.8],[179,-0.6],[181,-0.4],[183,-0.45],[185,-0.2],[187,0.3],[189,1.0],[191,2.4]];
const p12_agnostic=[[96,2.8],[97,3.2],[98,2.5],[99,1.0],[100,-0.3],[101,-0.6],[102,-0.2],[103,-0.8],[104,-0.5],[105,-0.1],[106,-0.4],[107,-0.8],[108,-0.3],[109,-1.2],[110,-0.6],[111,-0.4],[112,-0.3],[114,0.0],[116,0.8],[118,1.8],[119,2.5],[120,3.1],[121,3.2],[122,2.5],[123,1.0],[124,-0.3],[125,-0.7],[126,-0.5],[127,-0.9],[128,-0.4],[129,-0.8],[130,-0.3],[131,-0.5],[132,-0.3],[134,-0.5],[136,-0.1],[138,0.3],[140,1.0],[142,1.8],[143,2.3],[144,2.8],[145,3.0],[146,2.6],[147,1.2],[148,0.0],[149,-0.6],[150,-0.7],[151,-0.2],[152,-0.5],[153,-0.2],[154,-0.6],[155,-0.4],[156,-0.7],[157,-0.3],[159,-0.3],[161,0.2],[163,0.8],[165,1.6],[167,2.5],[168,3.0],[169,3.3],[170,2.5],[171,1.0],[172,-0.3],[173,-1.0],[174,-1.4],[175,-0.9],[176,-0.6],[177,-0.8],[178,-0.3],[179,-0.5],[180,-0.2],[181,-0.5],[182,-0.3],[184,0.0],[186,0.5],[187,0.7],[188,0.8],[190,1.5],[191,2.0]];
const p12_aware=[[96,3.2],[97,3.3],[98,2.8],[99,1.3],[100,-0.1],[101,-0.6],[103,-0.7],[105,-0.5],[107,-0.45],[109,-0.4],[111,-0.4],[113,-0.35],[115,0.0],[117,1.0],[119,2.2],[120,2.8],[121,3.1],[122,2.8],[123,1.4],[124,-0.1],[125,-0.6],[127,-0.85],[129,-0.6],[131,-0.35],[133,-0.4],[135,-0.4],[137,0.0],[139,0.8],[141,1.5],[143,2.4],[144,3.0],[145,3.2],[146,3.0],[147,1.8],[148,0.3],[149,-0.5],[151,-0.75],[153,-0.75],[155,-0.55],[157,-0.5],[159,-0.45],[161,0.0],[163,0.8],[165,1.5],[167,2.5],[168,3.2],[169,3.4],[170,3.0],[171,1.6],[172,0.2],[173,-0.6],[175,-0.85],[177,-0.75],[179,-0.5],[181,-0.45],[183,-0.4],[185,-0.2],[187,0.3],[189,1.0],[191,2.4]];

// Titles and labels
const modelTitles=["PatchTST","iTransformer"];
const columnTitles=["Maximum Degradation","Maximum Improvement","Maximum Degradation","Maximum Improvement"];
const seriesNames=["Ground Truth","Context-agnostic Forecast","Context-aware Forecast (ours)"];
const yTickSteps=[1,1,2.5,1, 0.5,1,1,2, 1,1,0.5,1];
const xTickValues=[0,25,50,75,100,125,150,175,200];

// ---------- LAYOUT / STYLE ----------
const W=1061,H=487;
const colX=[[25.5,256],[278.5,509.5],[579.5,803.7],[828.6,1056.8]];
const valueLabelX=[12.7,264.7,561,814];
const rowY=[[75,185],[202,310],[324,431]];
const lineColors=["#4C72B0","#DD8452","#55A868"];
const legendColors=["#1f5a9c","#ea9338","#6aab4f"];
const tickFont={family:"Liberation Serif, DejaVu Serif, serif",size:5.5,color:"#333"};
const labelFont={family:"Liberation Serif, serif",size:7.5,color:"#333"};
const boldSerif="DejaVu Serif, serif";

const panels=[
 [p1_truth,p1_agnostic,p1_aware],[p2_truth,p2_agnostic,p2_aware],[p3_truth,p3_agnostic,p3_aware],[p4_truth,p4_agnostic,p4_aware],
 [p5_truth,p5_agnostic,p5_aware],[p6_truth,p6_agnostic,p6_aware],[p7_truth,p7_agnostic,p7_aware],[p8_truth,p8_agnostic,p8_aware],
 [p9_truth,p9_agnostic,p9_aware],[p10_truth,p10_agnostic,p10_aware],[p11_truth,p11_agnostic,p11_aware],[p12_truth,p12_agnostic,p12_aware]
];

const traces=[];
const layout={width:W,height:H,margin:{l:0,r:0,t:0,b:0},paper_bgcolor:"#fff",showlegend:false,annotations:[],shapes:[]};

panels.forEach((series,i)=>{
  const row=Math.floor(i/4), col=i%4, k=i+1;
  const xa="xaxis"+(k===1?"":k), ya="yaxis"+(k===1?"":k);
  const xr="x"+(k===1?"":k), yr="y"+(k===1?"":k);
  let lo=Infinity,hi=-Infinity;
  series.forEach((s,j)=>{
    const xs=s.map(p=>p[0]), ys=s.map(p=>p[1]);
    ys.forEach(v=>{lo=Math.min(lo,v);hi=Math.max(hi,v);});
    traces.push({type:"scatter",mode:"lines",x:xs,y:ys,xaxis:xr,yaxis:yr,name:seriesNames[j],
      line:{color:lineColors[j],width:j===0?1.4:1.3},hoverinfo:"skip"});
  });
  const span=hi-lo;
  const [x0,x1]=colX[col], [y0,y1]=rowY[row];
  const step=yTickSteps[i];
  layout[xa]={domain:[x0/W,x1/W],anchor:yr,range:[-9.55,200.55],tickvals:xTickValues,
    showgrid:true,gridcolor:"#fff",gridwidth:0.8,zeroline:false,showline:false,ticks:"",
    tickfont:tickFont,ticklabelstandoff:0,fixedrange:true};
  layout[ya]={domain:[1-y1/H,1-y0/H],anchor:xr,range:[lo-0.05*span,hi+0.05*span],dtick:step,tick0:0,
    tickformat:(step<1||step===2.5)?".1f":"d",
    showgrid:true,gridcolor:"#fff",gridwidth:0.8,zeroline:false,showline:false,ticks:"",
    tickfont:tickFont,ticklabelstandoff:2,fixedrange:true};
  layout.shapes.push({type:"rect",xref:"paper",yref:"paper",x0:x0/W,x1:x1/W,y0:1-y1/H,y1:1-y0/H,
    fillcolor:"#EAEAF2",line:{width:0},layer:"below"});
  layout.annotations.push({text:"Value",xref:"paper",yref:"paper",x:valueLabelX[col]/W,y:1-(y0+y1)/2/H,
    textangle:-90,showarrow:false,font:labelFont,xanchor:"center",yanchor:"middle"});
  layout.annotations.push({text:"Time",xref:"paper",yref:"paper",x:(x0+x1)/2/W,y:1-(y1+11)/H,
    showarrow:false,font:labelFont,xanchor:"center",yanchor:"middle"});
});

// headings
[[268,0],[812,1]].forEach(([cx,m])=>layout.annotations.push({text:"<b>"+modelTitles[m]+"</b>",xref:"paper",yref:"paper",
  x:cx/W,y:1-17/H,showarrow:false,xanchor:"center",yanchor:"middle",font:{family:boldSerif,size:16,color:"#111"}}));
[143,391,693,937].forEach((cx,c)=>layout.annotations.push({text:"<b>"+columnTitles[c]+"</b>",xref:"paper",yref:"paper",
  x:cx/W,y:1-57/H,showarrow:false,xanchor:"center",yanchor:"middle",font:{family:boldSerif,size:16,color:"#111"}}));

// legend (custom, bottom)
[[117,146],[412,441],[745,771]].forEach(([sx,tx],j)=>{
  layout.shapes.push({type:"rect",xref:"paper",yref:"paper",x0:sx/W,x1:(sx+20)/W,y0:1-482/H,y1:1-462/H,
    fillcolor:legendColors[j],line:{width:0}});
  layout.annotations.push({text:"<b>"+seriesNames[j]+"</b>",xref:"paper",yref:"paper",x:tx/W,y:1-472/H,
    showarrow:false,xanchor:"left",yanchor:"middle",font:{family:boldSerif,size:16,color:"#111"}});
});

Plotly.newPlot("c",traces,layout,{staticPlot:true,displayModeBar:false});
</script></body></html>
